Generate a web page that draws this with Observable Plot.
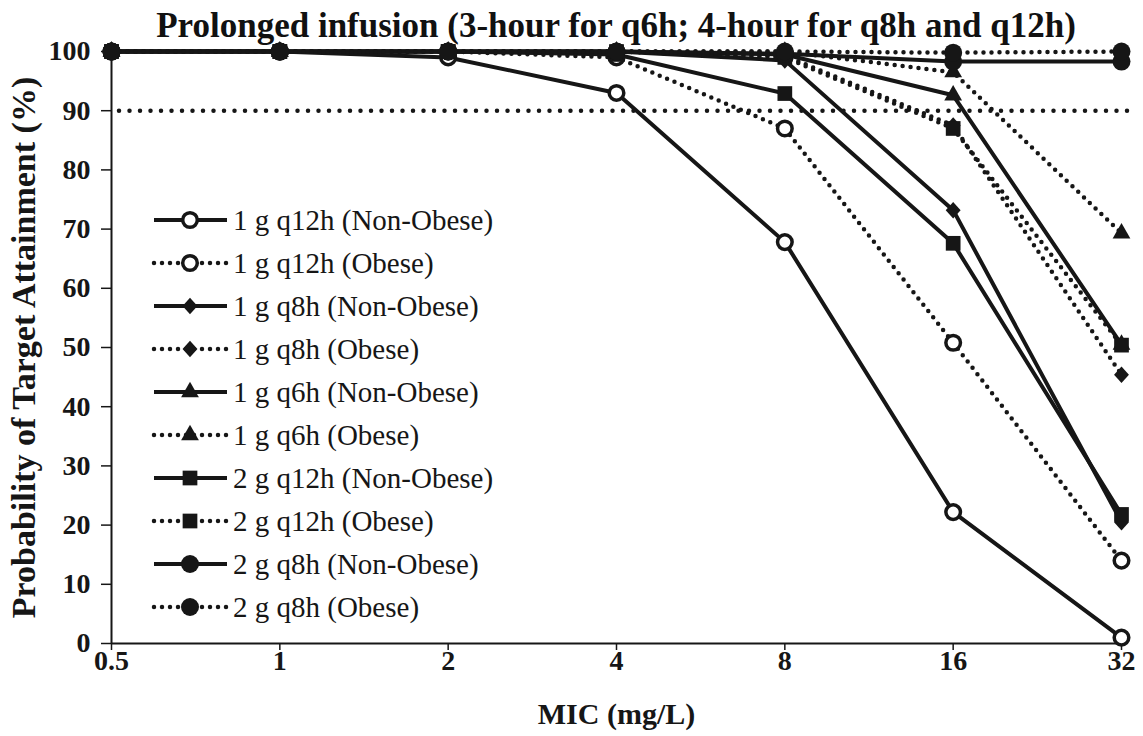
<!DOCTYPE html>
<html><head><meta charset="utf-8">
<script src="https://cdn.jsdelivr.net/npm/d3@7"></script>
<script src="https://cdn.jsdelivr.net/npm/@observablehq/plot@0.6"></script>
<style>
body{margin:0;background:#fff;font-family:"Liberation Serif","Times New Roman",serif;color:#111;}
#wrap{position:relative;width:1143px;height:736px;overflow:hidden;}
#title{box-sizing:border-box;padding-left:111px;padding-right:22px;width:1143px;height:40px;line-height:52px;text-align:center;font-weight:bold;font-size:35px;white-space:nowrap;font-family:"Liberation Serif",serif;}
#legend{position:absolute;left:0;top:0;pointer-events:none;}
</style></head>
<body><div id="wrap"><div id="title">Prolonged infusion (3-hour for q6h; 4-hour for q8h and q12h)</div><div id="chart"></div></div>
<script>
// ---- data ----
const mic = [0.5, 1, 2, 4, 8, 16, 32];
const micTickLabels = ["0.5", "1", "2", "4", "8", "16", "32"];
const yTicks = [0, 10, 20, 30, 40, 50, 60, 70, 80, 90, 100];
const targetPTA = 90;
const seriesLabels = [
  "1 g q12h (Non-Obese)", "1 g q12h (Obese)",
  "1 g q8h (Non-Obese)", "1 g q8h (Obese)",
  "1 g q6h (Non-Obese)", "1 g q6h (Obese)",
  "2 g q12h (Non-Obese)", "2 g q12h (Obese)",
  "2 g q8h (Non-Obese)", "2 g q8h (Obese)"
];
const pta1gQ12hNonObese = [100, 100, 99, 93, 67.8, 22.2, 1];
const pta1gQ12hObese    = [100, 100, 100, 99, 87, 50.8, 14];
const pta1gQ8hNonObese  = [100, 100, 100, 100, 98.5, 73.2, 20.5];
const pta1gQ8hObese     = [100, 100, 100, 100, 99.3, 87.5, 45.4];
const pta1gQ6hNonObese  = [100, 100, 100, 100, 99.5, 92.6, 50.5];
const pta1gQ6hObese     = [100, 100, 100, 100, 100, 96.5, 69.3];
const pta2gQ12hNonObese = [100, 100, 100, 99.5, 92.9, 67.6, 21.8];
const pta2gQ12hObese    = [100, 100, 100, 100, 99, 87, 50.4];
const pta2gQ8hNonObese  = [100, 100, 100, 100, 99.6, 98.3, 98.3];
const pta2gQ8hObese     = [100, 100, 100, 100, 100, 99.8, 100];
const seriesValues = [
  pta1gQ12hNonObese, pta1gQ12hObese, pta1gQ8hNonObese, pta1gQ8hObese,
  pta1gQ6hNonObese, pta1gQ6hObese, pta2gQ12hNonObese, pta2gQ12hObese,
  pta2gQ8hNonObese, pta2gQ8hObese
];

// ---- styles (kept apart from the data) ----
const INK = "#161616";
const rhombus = {draw(ctx, size) { const h = Math.sqrt(size / 2); ctx.moveTo(0, -h); ctx.lineTo(h * 0.9, 0); ctx.lineTo(0, h); ctx.lineTo(-h * 0.9, 0); ctx.closePath(); }};
const symbols = {circle: d3.symbolCircle, diamond: rhombus, triangle: d3.symbolTriangle, square: d3.symbolSquare};
const markerStyle = [
  {symbol: "circle", fill: "white", r: 7.3, strokeWidth: 3.5},
  {symbol: "circle", fill: "white", r: 7.3, strokeWidth: 3.5},
  {symbol: "diamond", fill: INK, r: 6.6, strokeWidth: 0},
  {symbol: "diamond", fill: INK, r: 6.6, strokeWidth: 0},
  {symbol: "triangle", fill: INK, r: 6.6, strokeWidth: 0},
  {symbol: "triangle", fill: INK, r: 6.6, strokeWidth: 0},
  {symbol: "square", fill: INK, r: 8.3, strokeWidth: 0},
  {symbol: "square", fill: INK, r: 8.3, strokeWidth: 0},
  {symbol: "circle", fill: INK, r: 9, strokeWidth: 0},
  {symbol: "circle", fill: INK, r: 9, strokeWidth: 0}
];
const isDotted = s => s.includes("(Obese)");
const solidLine = {stroke: INK, strokeWidth: 4};
const dottedLine = {stroke: INK, strokeWidth: 4.5, strokeDasharray: "0 8", strokeLinecap: "round"};

const rows = seriesLabels.flatMap((s, i) => mic.map((m, j) => ({series: s, mic: m, pta: seriesValues[i][j]})));

const marks = [
  Plot.ruleY([targetPTA], {x1: mic[0], x2: mic[mic.length - 1], stroke: INK, strokeWidth: 4.5, strokeDasharray: "0 10.5", strokeLinecap: "round", dx: 8}),
  Plot.ruleX([mic[0]], {stroke: INK, strokeWidth: 2}),
  Plot.ruleY([0], {stroke: INK, strokeWidth: 2}),
  Plot.axisY({ticks: yTicks, tickSize: 10, tickPadding: 11, label: null, fontSize: 28, fontWeight: "bold", stroke: INK, strokeWidth: 1.5}),
  Plot.axisX({ticks: mic, tickFormat: d => micTickLabels[mic.indexOf(d)], tickSize: 7, tickPadding: 0, label: null, fontSize: 28, fontWeight: "bold", strokeWidth: 1.5}),
  Plot.text(["Probability of Target Attainment (%)"], {frameAnchor: "left", textAnchor: "middle", dx: -87, dy: 0, rotate: -90, fontSize: 34, fontWeight: "bold", fill: INK}),
  Plot.text(["MIC (mg/L)"], {frameAnchor: "bottom", dy: 80, fontSize: 30, fontWeight: "bold", fill: INK})
];
seriesLabels.forEach((s, i) => {
  const sub = rows.filter(d => d.series === s);
  marks.push(Plot.line(sub, {x: "mic", y: "pta", ...(isDotted(s) ? dottedLine : solidLine)}));
  const ms = markerStyle[i];
  marks.push(Plot.dot(sub, {x: "mic", y: "pta", symbol: () => symbols[ms.symbol], r: ms.r, fill: ms.fill, stroke: INK, strokeWidth: ms.strokeWidth}));
});

const chart = Plot.plot({
  width: 1143, height: 696,
  marginLeft: 111, marginRight: 22, marginTop: 11, marginBottom: 93,
  style: {fontFamily: "'Liberation Serif','Times New Roman',serif", color: INK, background: "white", overflow: "visible"},
  x: {type: "log", base: 2, domain: [mic[0], mic[mic.length - 1]]},
  y: {domain: [0, 100]},
  symbol: {type: "identity"},
  marks
});
document.getElementById("chart").appendChild(chart);

// ---- legend (inside the plot area, drawn as an overlay) ----
const lg = d3.select("#wrap").append("svg").attr("id", "legend").attr("width", 1143).attr("height", 736);
const lgTop = 220, lgStep = 43, lx0 = 154, lx1 = 227, lxm = 190, ltx = 233;
seriesLabels.forEach((s, i) => {
  const y = lgTop + i * lgStep;
  const g = lg.append("g");
  const line = g.append("line").attr("x1", lx0).attr("x2", lx1).attr("y1", y).attr("y2", y).attr("stroke", INK);
  if (isDotted(s)) line.attr("stroke-width", 4.5).attr("stroke-dasharray", "0 8").attr("stroke-linecap", "round");
  else line.attr("stroke-width", 4);
  const ms = markerStyle[i];
  g.append("path").attr("transform", `translate(${lxm},${y})`)
    .attr("d", d3.symbol(symbols[ms.symbol], Math.PI * ms.r * ms.r)())
    .attr("fill", ms.fill).attr("stroke", INK).attr("stroke-width", ms.strokeWidth);
  g.append("text").attr("x", ltx).attr("y", y).attr("dy", "0.33em")
    .attr("font-family", "Liberation Serif, serif").attr("font-size", 29).attr("fill", INK).text(s);
});
</script></body></html>
